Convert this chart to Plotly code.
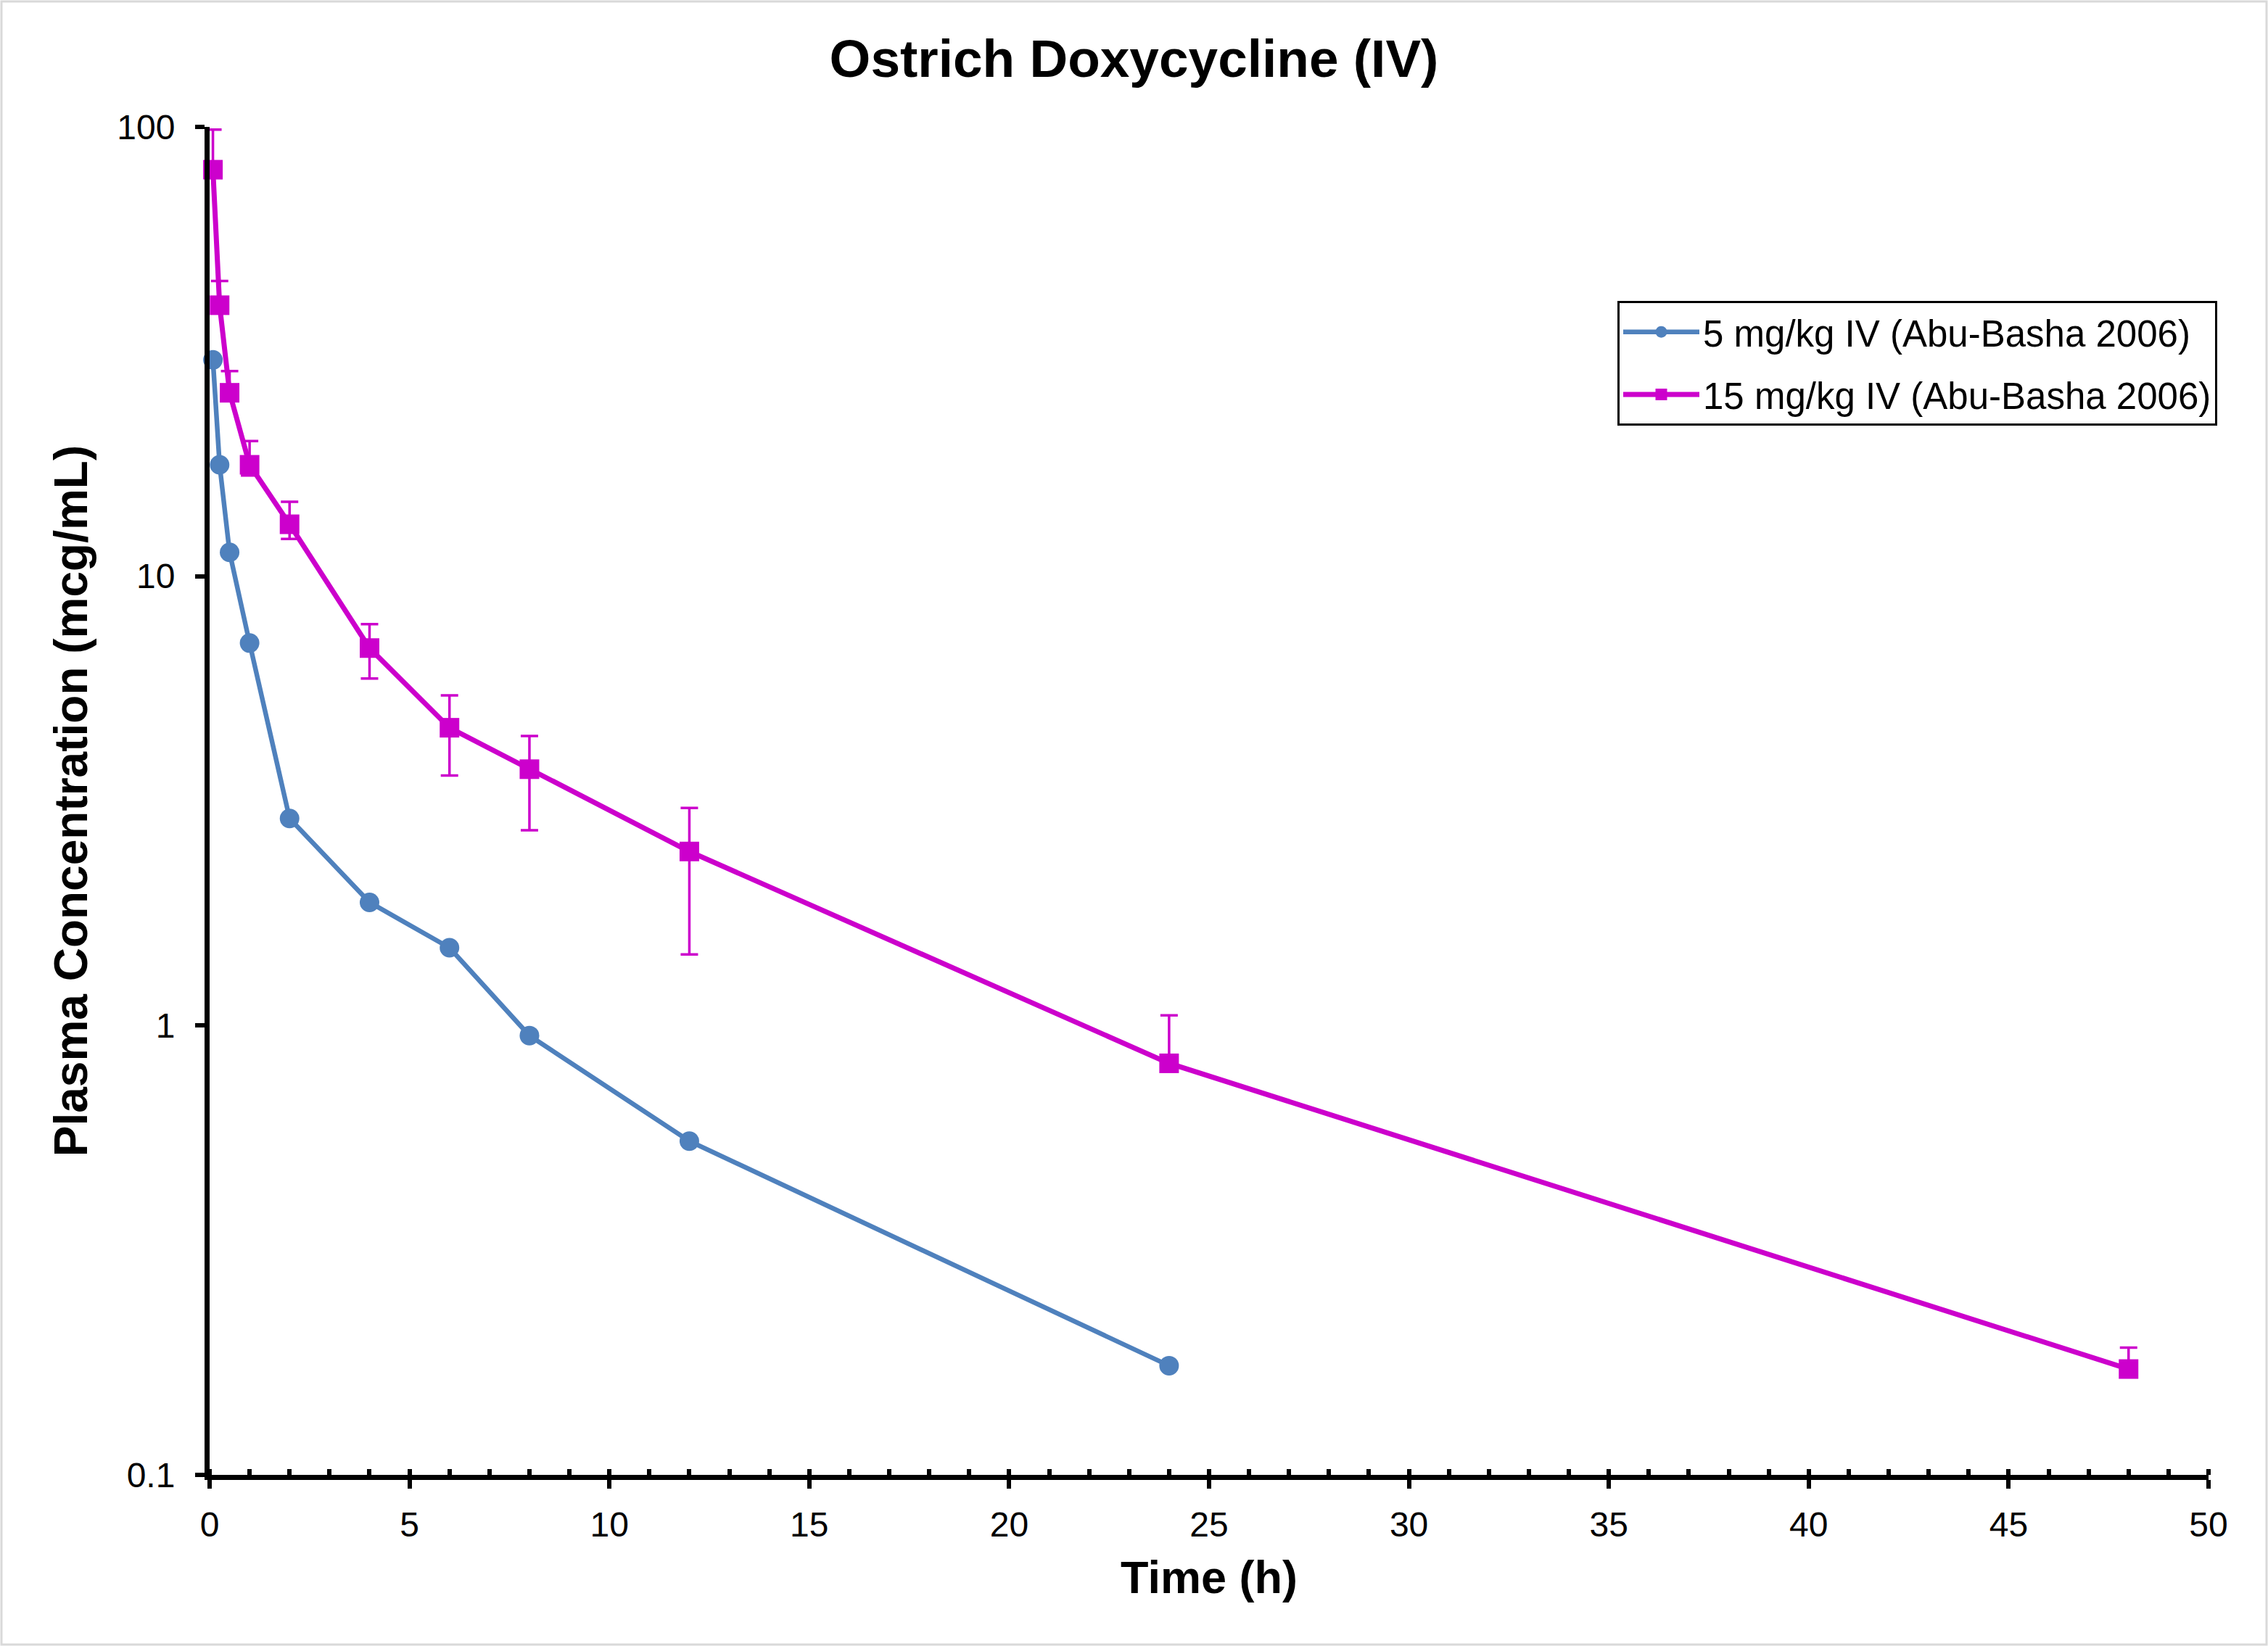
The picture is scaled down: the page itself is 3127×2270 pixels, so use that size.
import plotly.graph_objects as go

# ---------------- data ----------------
time_5 = [0.083, 0.25, 0.5, 1, 2, 4, 6, 8, 12, 24]
conc_5 = [30.3, 17.7, 11.3, 7.1, 2.89, 1.88, 1.49, 0.95, 0.553, 0.175]

time_15 = [0.083, 0.25, 0.5, 1, 2, 4, 6, 8, 12, 24, 48]
conc_15 = [80.3, 40.1, 25.6, 17.7, 13.05, 6.92, 4.60, 3.72, 2.44, 0.824, 0.172]
err_plus_15 = [18.3, 5.3, 3.0, 2.3, 1.6, 0.9, 0.83, 0.69, 0.61, 0.23, 0.02]
err_minus_15 = [0, 0, 0, 0.95, 0.95, 1.0, 1.0, 1.0, 1.0, 0, 0]

name_5 = "5 mg/kg IV (Abu-Basha 2006)"
name_15 = "15 mg/kg IV (Abu-Basha 2006)"

x_major_ticks = [0, 5, 10, 15, 20, 25, 30, 35, 40, 45, 50]
y_major_vals = [0.1, 1, 10, 100]
y_major_text = ["0.1", "1", "10", "100"]
y_minor_vals = [0.2, 0.3, 0.4, 0.5, 0.6, 0.7, 0.8, 0.9,
                2, 3, 4, 5, 6, 7, 8, 9,
                20, 30, 40, 50, 60, 70, 80, 90]

BLUE = "#4F81BD"
MAGENTA = "#CC00CC"
FONT = "Liberation Sans, Arial, sans-serif"

W, H = 3127, 2270
ML, MR, MT, MB = 289, 82, 175, 236
PW, PH = W - ML - MR, H - MT - MB

fig = go.Figure()

fig.add_trace(go.Scatter(
    x=time_5, y=conc_5, name=name_5, mode="lines+markers",
    line=dict(color=BLUE, width=6.5),
    marker=dict(symbol="circle", size=27, color=BLUE),
    cliponaxis=False, legendgroup="a",
))

fig.add_trace(go.Scatter(
    x=time_15, y=conc_15, name=name_15, mode="lines+markers",
    line=dict(color=MAGENTA, width=7),
    marker=dict(symbol="square", size=27, color=MAGENTA),
    error_y=dict(type="data", symmetric=False, array=err_plus_15,
                 arrayminus=err_minus_15, color=MAGENTA,
                 thickness=3.5, width=12),
    cliponaxis=False, legendgroup="b",
))

fig.update_layout(
    width=W, height=H,
    margin=dict(l=ML, r=MR, t=MT, b=MB, autoexpand=False),
    paper_bgcolor="white", plot_bgcolor="white",
    font=dict(family=FONT, color="black", size=48),
    title=dict(text="Ostrich Doxycycline (IV)", x=0.5, xanchor="center",
               y=1 - 80 / H, yanchor="middle", yref="container",
               font=dict(size=73, weight="bold", family=FONT, color="black")),
    showlegend=True,
    legend=dict(x=(2230 - ML) / PW, y=(H - MB - 415) / PH,
                xanchor="left", yanchor="top",
                bgcolor="white", bordercolor="black", borderwidth=3,
                font=dict(size=51, family=FONT, color="black"),
                itemwidth=105,
                traceorder="grouped", tracegroupgap=17),
    xaxis=dict(
        range=[0, 50], tickvals=x_major_ticks, showgrid=False, zeroline=False,
        showline=True, linecolor="black", linewidth=7,
        ticks="outside", ticklen=12, tickwidth=6, tickcolor="black",
        tickfont=dict(size=48), ticklabelstandoff=8,
        minor=dict(dtick=1, ticks="inside", ticklen=8, tickwidth=6,
                   tickcolor="black", showgrid=False),
        title=dict(text="Time (h)", font=dict(size=63, weight="bold"),
                   standoff=28),
    ),
    yaxis=dict(
        type="log", range=[-1, 2], tickvals=y_major_vals, ticktext=y_major_text,
        showgrid=False, zeroline=False,
        showline=True, linecolor="black", linewidth=7,
        ticks="outside", ticklen=13, tickwidth=6, tickcolor="black",
        tickfont=dict(size=48), ticklabelstandoff=18,
        title=dict(text="Plasma Concentration (mcg/mL)",
                   font=dict(size=64, weight="bold"), standoff=22),
    ),
    xaxis2=dict(
        range=[0, 50], tickvals=x_major_ticks, overlaying="x", anchor="y",
        side="bottom", showgrid=False, zeroline=False, showline=False,
        ticks="inside", ticklen=14, tickwidth=6, tickcolor="black",
        showticklabels=False,
    ),
    yaxis2=dict(
        type="log", range=[-1, 2], tickvals=y_major_vals, overlaying="y",
        anchor="x", side="left", showgrid=False, zeroline=False,
        showline=False, ticks="inside", ticklen=16, tickwidth=6,
        tickcolor="black", showticklabels=False,
    ),
    yaxis3=dict(
        type="log", range=[-1, 2], tickvals=y_minor_vals, overlaying="y",
        anchor="x", side="left", showgrid=False, zeroline=False,
        showline=False, ticks="outside", ticklen=12, tickwidth=6,
        tickcolor="black", showticklabels=False,
    ),
)

# light grey border around the whole chart
fig.add_shape(type="rect", xref="paper", yref="paper",
              x0=(-ML + 2) / PW, x1=1 + (MR - 2) / PW,
              y0=(-MB + 2) / PH, y1=1 + (MT - 2) / PH,
              line=dict(color="#D9D9D9", width=3), fillcolor="rgba(0,0,0,0)",
              layer="below")

fig.write_html("out.html", config={"displayModeBar": False},
               post_script="document.body.style.margin='0';")
